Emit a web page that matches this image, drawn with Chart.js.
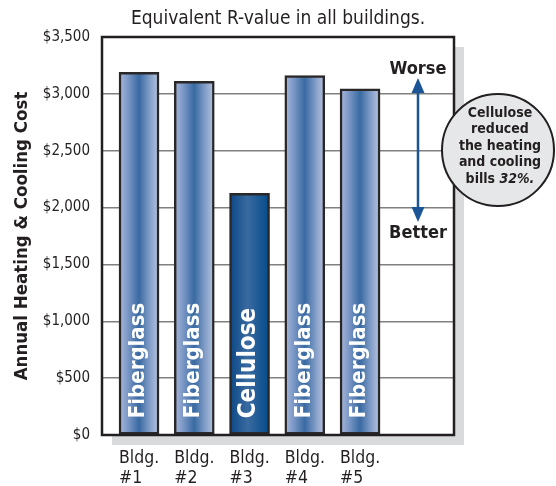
<!DOCTYPE html>
<html>
<head>
<meta charset="utf-8">
<script src="https://cdn.jsdelivr.net/npm/chart.js@4"></script>
<style>
  body { margin: 0; background: #fff; }
</style>
</head>
<body>
<canvas id="myChart" width="556" height="486"></canvas>
<script>
const buildings = ['#1', '#2', '#3', '#4', '#5'];
const insulation = ['Fiberglass', 'Fiberglass', 'Cellulose', 'Fiberglass', 'Fiberglass'];
const costs = [3190, 3110, 2125, 3160, 3045];
const calloutLines = ['Cellulose', 'reduced', 'the heating', 'and cooling', 'bills '];
const calloutPct = '32%.';

const FONT = "'DejaVu Sans Condensed', 'DejaVu Sans', sans-serif";
const INK = '#231f20';
const BLUE = '#1b5595';

// horizontal shading of each bar
function barFill(context) {
  const chart = context.chart;
  const x = chart.scales.x;
  if (!x || context.dataIndex === undefined) return '#3a6aa2';
  const cx = x.getPixelForValue(context.dataIndex + 1);
  if (!Number.isFinite(cx)) return '#3a6aa2';
  const g = chart.ctx.createLinearGradient(cx - 20, 0, cx + 20, 0);
  if (insulation[context.dataIndex] === 'Cellulose') {
    g.addColorStop(0, '#0a4786');
    g.addColorStop(0.45, '#3a6a9f');
    g.addColorStop(1, '#034b8b');
  } else {
    g.addColorStop(0, '#a9b9da');
    g.addColorStop(0.2, '#809bc8');
    g.addColorStop(0.5, '#396aa2');
    g.addColorStop(0.8, '#8aa3cb');
    g.addColorStop(1, '#b9c5de');
  }
  return g;
}

const decor = {
  id: 'decor',
  beforeDraw(chart) {
    const {ctx, chartArea: a} = chart;
    ctx.save();
    ctx.fillStyle = '#d9dadc';
    ctx.fillRect(a.left + 10, a.top + 10, a.width, a.height);
    ctx.fillStyle = '#fff';
    ctx.fillRect(a.left, a.top, a.width, a.height);
    ctx.restore();
  },
  afterDatasetsDraw(chart) {
    const {ctx, chartArea: a} = chart;
    const bars = chart.getDatasetMeta(0).data;
    ctx.save();

    // frame
    ctx.strokeStyle = INK;
    ctx.lineWidth = 2.5;
    ctx.strokeRect(a.left, a.top, a.width, a.height);

    // insulation names inside bars
    ctx.fillStyle = '#fff';
    ctx.textAlign = 'left';
    ctx.textBaseline = 'middle';
    bars.forEach((bar, i) => {
      const big = insulation[i] === 'Cellulose';
      ctx.save();
      ctx.translate(bar.x - 1, bar.base - 16);
      ctx.rotate(-Math.PI / 2);
      ctx.font = 'bold ' + (big ? 24 : 22) + 'px ' + FONT;
      ctx.fillText(insulation[i], 0, 0);
      ctx.restore();
    });

    // building labels under bars
    ctx.fillStyle = INK;
    ctx.textBaseline = 'alphabetic';
    ctx.font = '17.5px ' + FONT;
    bars.forEach((bar, i) => {
      const left = bar.x - bar.width / 2;
      ctx.fillText('Bldg.', left, a.bottom + 28);
      ctx.fillText(buildings[i], left, a.bottom + 48);
    });

    // Worse / Better arrow
    const ax = a.right - 36;
    const top = a.top + 41, bottom = a.top + 185;
    ctx.strokeStyle = BLUE;
    ctx.fillStyle = BLUE;
    ctx.lineWidth = 2.5;
    ctx.beginPath();
    ctx.moveTo(ax, top + 10);
    ctx.lineTo(ax, bottom - 10);
    ctx.stroke();
    ctx.beginPath();
    ctx.moveTo(ax, top);
    ctx.lineTo(ax - 6.5, top + 15);
    ctx.lineTo(ax + 6.5, top + 15);
    ctx.closePath();
    ctx.fill();
    ctx.beginPath();
    ctx.moveTo(ax, bottom);
    ctx.lineTo(ax - 6.5, bottom - 15);
    ctx.lineTo(ax + 6.5, bottom - 15);
    ctx.closePath();
    ctx.fill();
    ctx.fillStyle = INK;
    ctx.textAlign = 'center';
    ctx.font = 'bold 18px ' + FONT;
    ctx.fillText('Worse', ax, a.top + 37);
    ctx.fillText('Better', ax, a.top + 201);

    // callout bubble
    const cx = a.right + 44, cy = a.top + 113;
    ctx.beginPath();
    ctx.arc(cx, cy, 56, 0, Math.PI * 2);
    ctx.fillStyle = '#e6e7e8';
    ctx.fill();
    ctx.lineWidth = 2;
    ctx.strokeStyle = INK;
    ctx.stroke();
    ctx.fillStyle = INK;
    ctx.textBaseline = 'middle';
    ctx.font = 'bold 14px ' + FONT;
    calloutLines.forEach((line, i) => {
      const y = cy - 37 + i * 16.5;
      if (i < calloutLines.length - 1) {
        ctx.textAlign = 'center';
        ctx.fillText(line, cx + 2, y);
      } else {
        const w1 = ctx.measureText(line).width;
        ctx.font = 'italic bold 14px ' + FONT;
        const w2 = ctx.measureText(calloutPct).width;
        const start = cx + 2 - (w1 + w2) / 2;
        ctx.textAlign = 'left';
        ctx.fillText(calloutPct, start + w1, y);
        ctx.font = 'bold 14px ' + FONT;
        ctx.fillText(line, start, y);
      }
    });
    ctx.restore();
  }
};

const ctx = document.getElementById('myChart').getContext('2d');
const myChart = new Chart(ctx, {
  type: 'bar',
  data: {
    datasets: [{
      label: 'Annual cost',
      data: costs.map((v, i) => ({x: i + 1, y: v})),
      backgroundColor: barFill,
      borderColor: '#2a2728',
      borderWidth: 2.5,
      borderSkipped: false,
      barThickness: 40
    }]
  },
  options: {
    responsive: false,
    animation: false,
    layout: { padding: { left: 0, right: 102, top: 0, bottom: 51 } },
    plugins: {
      legend: { display: false },
      tooltip: { enabled: false },
      title: {
        display: true,
        fullSize: false,
        text: 'Equivalent R-value in all buildings.',
        color: INK,
        font: { family: FONT, size: 19, weight: 'normal' },
        padding: { top: 8, bottom: 6.2 }
      }
    },
    scales: {
      x: { type: 'linear', min: 0.33, max: 6.7, offset: false, display: false },
      y: {
        min: 0,
        max: 3500,
        afterFit(scale) { scale.width = 102; },
        border: { display: false },
        grid: { color: '#808080', lineWidth: 1.5, drawTicks: false },
        ticks: {
          stepSize: 500,
          padding: 12,
          color: INK,
          font: { family: FONT, size: 15 },
          callback: v => '$' + v.toLocaleString('en-US')
        },
        title: {
          display: true,
          text: 'Annual Heating & Cooling Cost',
          color: INK,
          font: { family: FONT, size: 18.5, weight: 'bold' },
          padding: { top: 11, bottom: 0 }
        }
      }
    }
  },
  plugins: [decor]
});
</script>
</body>
</html>
